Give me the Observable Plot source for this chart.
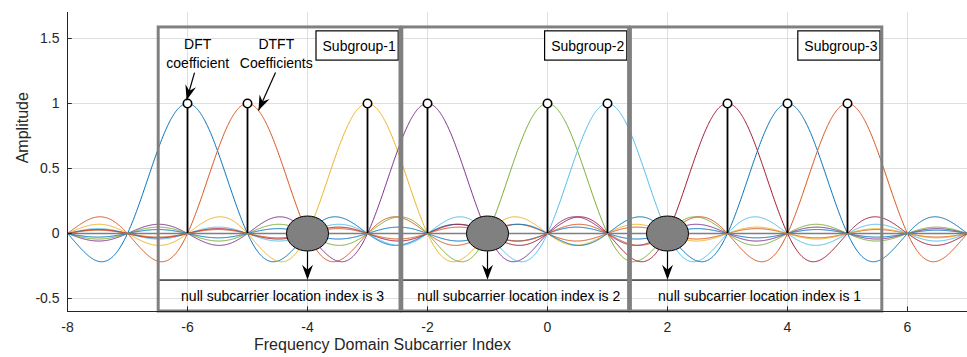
<!DOCTYPE html>
<html><head><meta charset="utf-8">
<script src="https://cdn.jsdelivr.net/npm/d3@7"></script>
<script src="https://cdn.jsdelivr.net/npm/@observablehq/plot@0.6"></script>
<style>
body{margin:0;background:#fff}
#chart{position:absolute;left:0;top:0}
</style>
</head><body><div id="chart"></div>
<script>
// ---- data ----
const subcarriers = [-6, -5, -3, -2, 0, 1, 3, 4, 5];           // active subcarrier indices (DFT coefficients)
const curveColors = ["#0072BD","#D95319","#EDB120","#7E2F8E","#77AC30","#4DBEEE","#A2142F","#0072BD","#D95319"];
const nullIndices = [-4, -1, 2];                                 // null subcarrier positions
const nullLabels = ["null subcarrier location index is 3","null subcarrier location index is 2","null subcarrier location index is 1"];
const subgroupNames = ["Subgroup-1", "Subgroup-2", "Subgroup-3"];
const subgroupLeft = [-6.48, -2.42, 1.39];
const subgroupRight = [-2.45, 1.36, 5.58];
const xTicks = [-8, -6, -4, -2, 0, 2, 4, 6];
const yTicks = [-0.5, 0, 0.5, 1, 1.5];
const xLabel = "Frequency Domain Subcarrier Index";
const yLabel = "Amplitude";
const dftLabel = "DFT\ncoefficient";
const dtftLabel = "DTFT\nCoefficients";

// ---- DTFT of each subcarrier (rectangular pulse -> sinc kernel) ----
const sinc = t => t === 0 ? 1 : Math.sin(Math.PI * t) / (Math.PI * t);
const curves = [];
subcarriers.forEach((k, i) => {
  for (let j = 0; j <= 1500; j++) {
    const f = -8 + j * 0.01;
    curves.push({series: i, f, a: sinc(f - k)});
  }
});

const subgroups = subgroupNames.map((name, i) => ({
  name, left: subgroupLeft[i], right: subgroupRight[i],
  nullX: nullIndices[i], nullLabel: nullLabels[i]
}));

const FONT = "Liberation Sans, Arial, Helvetica, sans-serif";
const ellipseSymbol = {draw(ctx) {
  const rx = 21, ry = 17.5, k = 0.5523;
  ctx.moveTo(rx, 0);
  ctx.bezierCurveTo(rx, ry * k, rx * k, ry, 0, ry);
  ctx.bezierCurveTo(-rx * k, ry, -rx, ry * k, -rx, 0);
  ctx.bezierCurveTo(-rx, -ry * k, -rx * k, -ry, 0, -ry);
  ctx.bezierCurveTo(rx * k, -ry, rx, -ry * k, rx, 0);
  ctx.closePath();
}};
const headSymbol = {draw(ctx) {
  ctx.moveTo(0, 0);
  ctx.lineTo(-5.5, -15);
  ctx.lineTo(0, -10);
  ctx.lineTo(5.5, -15);
  ctx.closePath();
}};

const annotations = [
  {text: dftLabel, x: -5.83, y: 1.39, ax1: -5.883, ay1: 1.238, ax2: -6.015, ay2: 1.025, rot: 16},
  {text: dtftLabel, x: -4.52, y: 1.39, ax1: -4.533, ay1: 1.238, ax2: -4.817, ay2: 0.946, rot: 24}
];

const chart = Plot.plot({
  width: 967, height: 357,
  marginLeft: 67, marginRight: 0, marginTop: 12, marginBottom: 46,
  x: {domain: [-8, 7]},
  y: {domain: [-0.6, 1.7]},
  color: {type: "ordinal", domain: d3.range(subcarriers.length), range: curveColors},
  style: {fontFamily: FONT, background: "#fff"},
  marks: [
    Plot.gridX(xTicks, {stroke: "#dfdfdf", strokeOpacity: 1}),
    Plot.gridY(yTicks, {stroke: "#dfdfdf", strokeOpacity: 1}),
    Plot.line(curves, {x: "f", y: "a", z: "series", stroke: "series", strokeWidth: 1}),
    Plot.ruleY([0], {stroke: "#7f7f7f", strokeWidth: 1.6}),
    Plot.ruleX(subcarriers, {x: d => d, y1: 0, y2: 1, stroke: "#000", strokeWidth: 1.8}),
    Plot.dot(subcarriers, {x: d => d, y: () => 1, r: 4.2, stroke: "#000", fill: "#fff", strokeWidth: 1.6}),
    // null-location text boxes
    Plot.rect(subgroups, {x1: "left", x2: "right", y1: -0.6, y2: -0.362, stroke: "#000", strokeWidth: 1.2, fill: "none"}),
    Plot.text(subgroups, {x: d => (d.left + d.right) / 2 + 0.05, y: () => -0.485, text: "nullLabel", fontSize: 14, fill: "#000"}),
    // subgroup name boxes
    Plot.rect(subgroups, {x1: d => d.right - 1.4, x2: d => d.right - 0.03, y1: 1.33, y2: 1.555, stroke: "#000", strokeWidth: 1.2, fill: "#fff"}),
    Plot.text(subgroups, {x: d => d.right - 0.08, y: () => 1.44, text: "name", textAnchor: "end", fontSize: 14, fill: "#000"}),
    // subgroup frames
    Plot.rect(subgroups, {x1: "left", x2: "right", y1: -0.6, y2: 1.585, stroke: "#808080", strokeWidth: 3, fill: "none"}),
    // null markers
    Plot.ruleX(subgroups, {x: "nullX", y1: -0.14, y2: -0.34, stroke: "#000", strokeWidth: 1.2}),
    Plot.dot(subgroups, {x: "nullX", y: () => -0.355, symbol: headSymbol, fill: "#000", stroke: "none"}),
    Plot.dot(subgroups, {x: "nullX", y: () => 0, symbol: ellipseSymbol, fill: "#808080", stroke: "#000", strokeWidth: 1}),
    // DFT / DTFT annotations
    Plot.text(annotations, {x: "x", y: "y", text: "text", fontSize: 14, fill: "#000", lineHeight: 1.35}),
    Plot.link(annotations, {x1: "ax1", y1: "ay1", x2: "ax2", y2: "ay2", stroke: "#000", strokeWidth: 1.2}),
    Plot.dot(annotations, {x: "ax2", y: "ay2", symbol: headSymbol, rotate: "rot", fill: "#000", stroke: "none"}),
    // axes
    Plot.ruleX([-8], {stroke: "#262626", strokeWidth: 1}),
    Plot.ruleY([-0.6], {stroke: "#262626", strokeWidth: 1}),
    Plot.ruleX(xTicks, {x: d => d, y1: -0.6, y2: -0.565, stroke: "#262626"}),
    Plot.ruleY(yTicks, {y: d => d, x1: -8, x2: -7.92, stroke: "#262626"}),
    Plot.axisX(xTicks, {tickSize: 0, tickPadding: 11, tickFormat: d => String(d), fontSize: 14, fill: "#262626", label: null}),
    Plot.axisY(yTicks, {tickSize: 0, tickPadding: 8, tickFormat: d => String(d), fontSize: 14, fill: "#262626", label: null}),
    Plot.text([xLabel], {x: () => -2.75, frameAnchor: "bottom", dy: 38, text: d => d, fontSize: 16, fill: "#262626"}),
    Plot.text([yLabel], {y: () => 0.54, frameAnchor: "left", dx: -45, rotate: -90, text: d => d, fontSize: 16, fill: "#262626"})
  ]
});
document.getElementById("chart").appendChild(chart);
</script>
</body></html>
